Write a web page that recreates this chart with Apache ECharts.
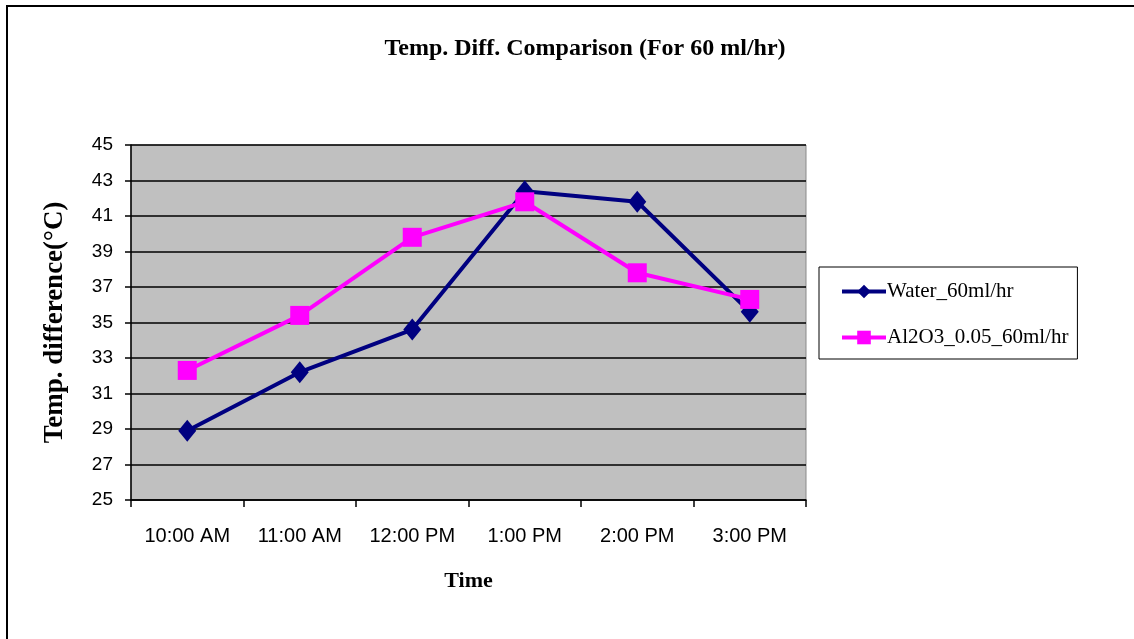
<!DOCTYPE html>
<html>
<head>
<meta charset="utf-8">
<script src="https://cdn.jsdelivr.net/npm/echarts@6/dist/echarts.min.js"></script>
<style>
  html, body { margin: 0; padding: 0; background: #fff; }
  #chart { width: 1134px; height: 639px; }
</style>
</head>
<body>
<div id="chart"></div>
<script>
// Time of reading
const categories = ['10:00 AM', '11:00 AM', '12:00 PM', '1:00 PM', '2:00 PM', '3:00 PM'];
// Temperature difference (°C) per fluid
const waterValues = [28.9, 32.2, 34.6, 42.4, 41.8, 35.6];
const aluminaValues = [32.3, 35.4, 39.8, 41.8, 37.8, 36.3];
const seriesNames = ['Water_60ml/hr', 'Al2O3_0.05_60ml/hr'];

const serif = '"Liberation Serif", "Times New Roman", serif';
const sans = '"Liberation Sans", Arial, sans-serif';

const chart = echarts.init(document.getElementById('chart'));
chart.setOption({
  animation: false,
  backgroundColor: '#ffffff',
  title: {
    text: 'Temp. Diff. Comparison (For 60 ml/hr)',
    left: 580,
    textAlign: 'center',
    top: 32,
    textStyle: { fontFamily: serif, fontWeight: 'bold', fontSize: 24, color: '#000' }
  },
  graphic: [{
    type: 'rect',
    shape: { x: 7, y: 6, width: 1200, height: 700 },
    style: { fill: 'none', stroke: '#000', lineWidth: 2 },
    silent: true
  }],
  legend: {
    orient: 'vertical',
    left: 819,
    top: 267,
    padding: [14, 9, 11, 21],
    itemGap: 25,
    itemWidth: 44,
    itemHeight: 17,
    borderColor: '#000',
    borderWidth: 1,
    lineStyle: { width: 4 },
    textStyle: { fontFamily: serif, fontSize: 21, color: '#000', padding: [0, 0, 0, -4] },
    data: seriesNames
  },
  grid: {
    left: 131,
    right: 328,
    top: 145,
    bottom: 139,
    show: true,
    backgroundColor: '#c0c0c0',
    borderColor: '#8a8a8a',
    borderWidth: 1
  },
  xAxis: {
    type: 'category',
    data: categories,
    boundaryGap: true,
    name: 'Time',
    nameLocation: 'middle',
    nameGap: 70,
    nameTextStyle: { fontFamily: serif, fontWeight: 'bold', fontSize: 22, color: '#000' },
    axisLine: { lineStyle: { color: '#000', width: 1.5 } },
    axisTick: { show: true, interval: 0, alignWithLabel: false, length: 7, lineStyle: { color: '#000', width: 1.5 } },
    axisLabel: { interval: 0, margin: 26, fontFamily: sans, fontSize: 20, color: '#000' },
    splitLine: { show: false }
  },
  yAxis: {
    type: 'value',
    min: 25,
    max: 45,
    interval: 2,
    name: 'Temp. difference(°C)',
    nameLocation: 'middle',
    nameGap: 62,
    nameTextStyle: { fontFamily: serif, fontWeight: 'bold', fontSize: 27, color: '#000' },
    axisLine: { show: true, lineStyle: { color: '#000', width: 1.5 } },
    axisTick: { show: true, length: 6, lineStyle: { color: '#000', width: 1.5 } },
    axisLabel: { margin: 18, fontFamily: sans, fontSize: 19, color: '#000' },
    splitLine: { show: true, lineStyle: { color: '#000', width: 1.5 } }
  },
  series: [
    {
      name: seriesNames[0],
      type: 'line',
      data: waterValues,
      symbol: 'diamond',
      symbolSize: [18, 22],
      itemStyle: { color: '#000080' },
      lineStyle: { color: '#000080', width: 4 },
      z: 3
    },
    {
      name: seriesNames[1],
      type: 'line',
      data: aluminaValues,
      symbol: 'rect',
      symbolSize: [19, 19],
      itemStyle: { color: '#ff00ff' },
      lineStyle: { color: '#ff00ff', width: 4 },
      z: 4
    }
  ]
});
</script>
</body>
</html>
